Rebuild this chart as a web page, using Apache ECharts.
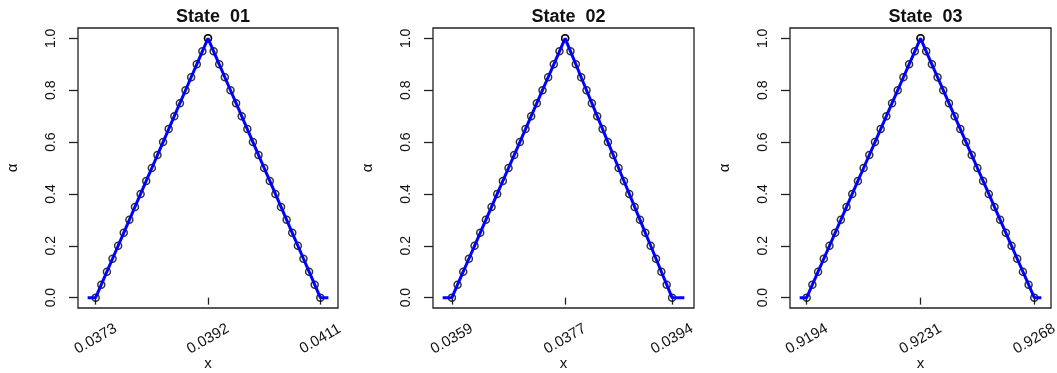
<!DOCTYPE html>
<html>
<head>
<meta charset="utf-8">
<title>State 01 - 03</title>
<script src="https://cdn.jsdelivr.net/npm/echarts@6.0.0/dist/echarts.min.js"></script>
<style>
  html, body { margin: 0; padding: 0; background: #fff; }
  #chart { width: 1057px; height: 373px; }
</style>
</head>
<body>
<div id="chart"></div>
<script>
'use strict';

// alpha levels
var alpha = [0, 0.05, 0.1, 0.15, 0.2, 0.25, 0.3, 0.35, 0.4, 0.45, 0.5,
  0.55, 0.6, 0.65, 0.7, 0.75, 0.8, 0.85, 0.9, 0.95, 1];

// State 01
var left01 = [0.03730, 0.037395, 0.03749, 0.037585, 0.03768, 0.037775, 0.03787, 0.037965, 0.03806, 0.038155, 0.03825,
  0.038345, 0.03844, 0.038535, 0.03863, 0.038725, 0.03882, 0.038915, 0.03901, 0.039105, 0.0392];
var right01 = [0.0411, 0.041005, 0.04091, 0.040815, 0.04072, 0.040625, 0.04053, 0.040435, 0.04034, 0.040245, 0.04015,
  0.040055, 0.03996, 0.039865, 0.03977, 0.039675, 0.03958, 0.039485, 0.03939, 0.039295, 0.0392];
var ends01 = [0.037164, 0.041236];
var ticks01 = [0.0373, 0.0392, 0.0411];

// State 02
var left02 = [0.0359, 0.03599, 0.03608, 0.03617, 0.03626, 0.03635, 0.03644, 0.03653, 0.03662, 0.03671, 0.0368,
  0.03689, 0.03698, 0.03707, 0.03716, 0.03725, 0.03734, 0.03743, 0.03752, 0.03761, 0.0377];
var right02 = [0.0394, 0.039315, 0.03923, 0.039145, 0.03906, 0.038975, 0.03889, 0.038805, 0.03872, 0.038635, 0.03855,
  0.038465, 0.03838, 0.038295, 0.03821, 0.038125, 0.03804, 0.037955, 0.03787, 0.037785, 0.0377];
var ends02 = [0.035753, 0.039595];
var ticks02 = [0.0359, 0.0377, 0.0394];

// State 03
var left03 = [0.9194, 0.919585, 0.91977, 0.919955, 0.92014, 0.920325, 0.92051, 0.920695, 0.92088, 0.921065, 0.92125,
  0.921435, 0.92162, 0.921805, 0.92199, 0.922175, 0.92236, 0.922545, 0.92273, 0.922915, 0.9231];
var right03 = [0.9268, 0.926615, 0.92643, 0.926245, 0.92606, 0.925875, 0.92569, 0.925505, 0.92532, 0.925135, 0.92495,
  0.924765, 0.92458, 0.924395, 0.92421, 0.924025, 0.92384, 0.923655, 0.92347, 0.923285, 0.9231];
var ends03 = [0.919171, 0.927029];
var ticks03 = [0.9194, 0.9231, 0.9268];

var yTicks = [0, 0.2, 0.4, 0.6, 0.8, 1.0];

var panels = [
  { title: 'State  01', left: left01, right: right01, ends: ends01, ticks: ticks01, gl: 78, gw: 260 },
  { title: 'State  02', left: left02, right: right02, ends: ends02, ticks: ticks02, gl: 433, gw: 261 },
  { title: 'State  03', left: left03, right: right03, ends: ends03, ticks: ticks03, gl: 790, gw: 261 }
];

var FONT = '"Liberation Sans", Arial, sans-serif';
var TXT = '#111';

var option = {
  backgroundColor: '#fff',
  animation: false,
  title: [],
  grid: [],
  xAxis: [],
  yAxis: [],
  series: []
};

panels.forEach(function (p, i) {
  var lo = p.ends[0], hi = p.ends[1];
  var pad = (hi - lo) * 0.04; // R style 4% axis extension

  var pts = [];
  var line = [[lo, 0]];
  var k;
  for (k = 0; k < alpha.length; k++) {
    pts.push([p.left[k], alpha[k]]);
    line.push([p.left[k], alpha[k]]);
  }
  for (k = alpha.length - 1; k >= 0; k--) {
    pts.push([p.right[k], alpha[k]]);
    line.push([p.right[k], alpha[k]]);
  }
  line.push([hi, 0]);

  option.title.push({
    text: p.title,
    left: p.gl + p.gw / 2,
    top: 3,
    textAlign: 'center',
    textStyle: { fontFamily: FONT, fontSize: 18, fontWeight: 'bold', color: TXT }
  });

  option.grid.push({
    left: p.gl, top: 28, width: p.gw, height: 280,
    outerBoundsMode: 'none',
    containLabel: false,
    show: true, borderColor: '#222', borderWidth: 1.3, backgroundColor: 'transparent'
  });

  option.xAxis.push({
    type: 'value',
    gridIndex: i,
    min: lo - pad,
    max: hi + pad,
    name: 'x',
    nameLocation: 'middle',
    nameGap: 48,
    nameMoveOverlap: false,
    nameTextStyle: { fontFamily: FONT, fontSize: 15, color: TXT },
    axisLine: { show: false },
    splitLine: { show: false },
    axisTick: { show: true, inside: false, length: 7, customValues: p.ticks, lineStyle: { color: '#222', width: 1.3 } },
    axisLabel: {
      customValues: p.ticks,
      rotate: 30,
      align: 'center',
      verticalAlign: 'middle',
      margin: 31,
      fontFamily: FONT,
      fontSize: 15,
      color: TXT,
      formatter: function (v) { return v.toFixed(4); }
    }
  });

  option.yAxis.push({
    type: 'value',
    gridIndex: i,
    min: -0.04,
    max: 1.04,
    name: 'α',
    nameLocation: 'middle',
    nameGap: 58,
    nameMoveOverlap: false,
    nameRotate: 90,
    nameTextStyle: { fontFamily: FONT, fontSize: 15, color: TXT },
    axisLine: { show: false },
    splitLine: { show: false },
    axisTick: { show: true, inside: false, length: 9, customValues: yTicks, lineStyle: { color: '#222', width: 1.3 } },
    axisLabel: {
      customValues: yTicks,
      rotate: 90,
      align: 'center',
      verticalAlign: 'middle',
      margin: 27,
      fontFamily: FONT,
      fontSize: 14,
      color: TXT,
      formatter: function (v) { return v.toFixed(1); }
    }
  });

  // open circles
  option.series.push({
    type: 'scatter',
    xAxisIndex: i,
    yAxisIndex: i,
    data: pts,
    symbol: 'circle',
    symbolSize: 7,
    itemStyle: { color: 'rgba(0,0,0,0)', borderColor: '#000', borderWidth: 1.5 },
    z: 2
  });

  // blue line over the points
  option.series.push({
    type: 'line',
    xAxisIndex: i,
    yAxisIndex: i,
    data: line,
    showSymbol: false,
    lineStyle: { color: '#0000ff', width: 3 },
    z: 3
  });
});

var myChart = echarts.init(document.getElementById('chart'), null, { renderer: 'canvas' });
myChart.setOption(option);
</script>
</body>
</html>
